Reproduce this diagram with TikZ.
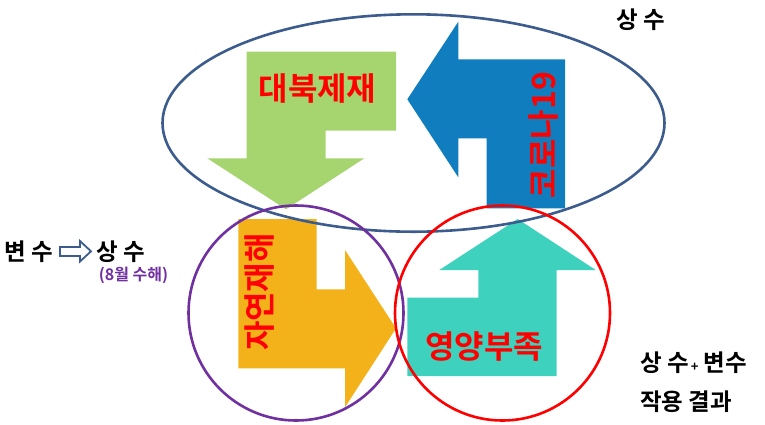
\documentclass[tikz,border=0pt]{standalone}
\usepackage{fontspec}
\setmainfont{Noto Sans CJK KR}[BoldFont={Noto Sans CJK KR Bold}]
\usepackage{tikz}

\definecolor{sanctgreen}{RGB}{166,212,110}
\definecolor{covidblue}{RGB}{16,126,190}
\definecolor{disasterorange}{RGB}{243,178,26}
\definecolor{hungerteal}{RGB}{62,210,190}
\definecolor{rimblue}{RGB}{60,92,142}
\definecolor{rimpurple}{RGB}{112,48,160}

\tikzset{
  bigword/.style={font=\bfseries\fontsize{32}{32}\selectfont, text=red, inner sep=0pt},
  sideword/.style={font=\bfseries\fontsize{23.5}{23.5}\selectfont, text=black, inner sep=0pt},
  rim/.style={line width=2.6pt}
}

\begin{document}
\begin{tikzpicture}[x=1pt,y=-1pt]
\useasboundingbox (0,0) rectangle (765,424);
 \fill[sanctgreen]
%    down arrow
		(246.7,51.7) -- (396,51.7) -- (396,130.7) -- (325.7,130.7)
		-- (325.7,158.3) -- (364.3,158.3) -- (286,209.3)
		-- (207.3,158.3) -- (246.7,158.3) -- cycle;
 \fill[covidblue]
%    left arrow
		(407.3,99.3) -- (458.3,21.7) -- (458.3,59.3) -- (565,59.3)
		-- (565,208.3) -- (486.7,208.3) -- (486.7,138.3)
		-- (458.3,138.3) -- (458.3,177.3) -- cycle;
 \fill[disasterorange]
%    right arrow
		(238.3,219) -- (316.7,219) -- (316.7,289.3) -- (345,289.3)
		-- (345,250) -- (396,328.3) -- (345,407.3)
		-- (345,368.3) -- (238.3,368.3) -- cycle;
 \fill[hungerteal]
%    up arrow
		(407.3,297.7) -- (478.3,297.7) -- (478.3,270) -- (439.3,270)
		-- (517.7,219) -- (595.7,270) -- (556.7,270)
		-- (556.7,376) -- (407.3,376) -- cycle;

 \draw[rim, rimblue] (413.5,123) ellipse [x radius=251, y radius=108.7];
 \draw[rim, rimpurple] (296,313) circle [radius=107.5];
 \draw[rim, red] (502.5,313) circle [radius=107.5];

 \node[bigword] (sanction) at (317.5,89) {대북제재};
 \node[bigword, rotate=90] (corona) at (543,135) {코로나19};
 \node[bigword, rotate=90] (disaster) at (260,292) {자연재해};
 \node[bigword] (hunger) at (484,347) {영양부족};

 \node[sideword] (const) at (641,20) {상 수};
 \node[sideword] (varleft) at (29,252) {변 수};
%    hollow arrow
 \draw[rimblue, fill=white, line width=1.8pt, line join=miter]
		(60,247) -- (80,247) -- (80,241) -- (91,251.3)
		-- (80,261.5) -- (80,256) -- (60,256) -- cycle;
 \node[sideword] (constleft) at (121,252) {상 수};
 \node[font=\bfseries\fontsize{16}{16}\selectfont, text=rimpurple, inner sep=0pt]
       (flood) at (133.5,275) {(8월 수해)};
 \node[sideword, anchor=west] (mix) at (640,363)
       {상 수{\fontsize{13}{13}\selectfont\,+} 변수};
 \node[sideword, anchor=west] (result) at (640,402) {작용 결과};
\end{tikzpicture}
\end{document}
